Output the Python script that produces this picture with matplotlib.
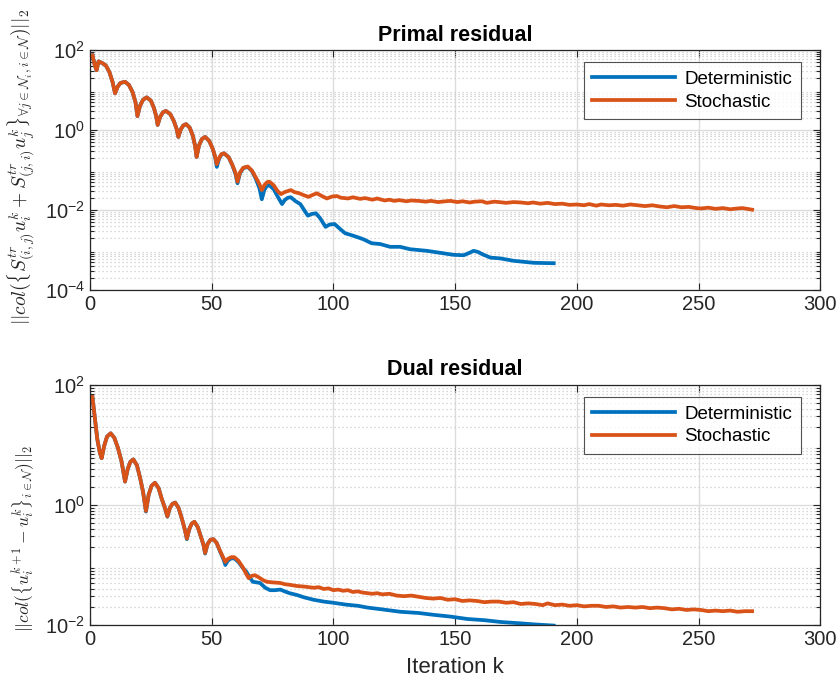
import matplotlib
matplotlib.use("Agg")
import matplotlib.pyplot as plt
import numpy as np
from matplotlib.ticker import LogLocator, FixedLocator, NullFormatter

plt.rcParams['font.family'] = ['Liberation Sans', 'DejaVu Sans']
plt.rcParams['mathtext.fontset'] = 'cm'

# ---------------- data (log10 of residuals) ----------------
primal_det_k = [1, 2, 2.7, 3.5, 5, 6.5, 8, 9.3, 10.3, 11.3, 12.5, 14.4, 16, 17.5, 18.7, 19.5,
                20.5, 21.8, 23.3, 25, 26.3, 27.2, 27.8, 28.8, 30, 31.2, 33, 34.5, 35.6, 36.3,
                37.3, 38.4, 39.5, 41, 42.3, 43.2, 43.8, 44.8, 46, 47.3, 49, 50.5, 51.5, 52.1,
                53, 54, 55.1, 57, 58.5, 59.8, 60.6, 61.6, 63, 64.8, 66.5, 68, 69.6, 70.6,
                71.6, 72.6, 73.7, 75.5, 77, 78.9, 80, 81.3, 82.5, 84.5, 86.4, 88, 89.5, 91,
                92.8, 94.5, 96.8, 98.5, 100.5, 102.5, 104.8, 107, 109.5, 112.3, 115.7, 119.2,
                123.3, 127.4, 131.5, 138.4, 143.9, 149.4, 153.5, 155.5, 157.6, 159.5, 161,
                164.5, 168.6, 174.1, 182.3, 190.5]
primal_det_log = [1.87, 1.62, 1.50, 1.72, 1.68, 1.62, 1.45, 1.20, 0.92, 1.08, 1.18, 1.21, 1.13, 0.95, 0.70, 0.35,
                  0.60, 0.76, 0.82, 0.74, 0.55, 0.35, 0.13, 0.33, 0.45, 0.48, 0.40, 0.22, 0.03, -0.17,
                  0.02, 0.12, 0.15, 0.06, -0.15, -0.40, -0.67, -0.38, -0.22, -0.17, -0.27, -0.48, -0.70, -0.92,
                  -0.72, -0.61, -0.58, -0.68, -0.88, -1.10, -1.33, -1.08, -0.95, -0.92, -1.02, -1.20, -1.45, -1.73,
                  -1.50, -1.40, -1.38, -1.48, -1.65, -1.85, -1.75, -1.69, -1.68, -1.78, -1.85, -2.00, -2.14, -2.10,
                  -2.08, -2.20, -2.42, -2.36, -2.35, -2.46, -2.58, -2.62, -2.67, -2.73, -2.83, -2.85,
                  -2.92, -2.92, -2.98, -3.02, -3.07, -3.12, -3.13, -3.08, -3.02, -3.05, -3.10,
                  -3.19, -3.21, -3.27, -3.32, -3.33]

primal_sto_k = [1, 2, 2.7, 3.5, 5, 6.5, 8, 9.3, 10.3, 11.3, 12.5, 14.4, 16, 17.5, 18.7, 19.5,
                20.5, 21.8, 23.3, 25, 26.3, 27.2, 27.8, 28.8, 30, 31.2, 33, 34.5, 35.6, 36.3,
                37.3, 38.4, 39.5, 41, 42.3, 43.2, 43.8, 44.8, 46, 47.3, 49, 50.5, 51.5, 52.1,
                53, 54, 55.1, 57, 58.5, 59.8, 60.6, 61.6, 63, 64.8, 66.5, 68, 69.6, 70.6,
                71.6, 72.8, 73.7, 75.5, 77, 78.5, 80, 81.5, 82.5, 84, 86, 87.5, 89.8, 91.5,
                93.2, 95, 97.3, 99.5, 101.5, 103, 106, 108, 111, 113, 116, 118, 121, 123, 125,
                127, 130, 132, 135, 138, 140, 143, 146, 148, 151, 153, 156, 158, 161, 163, 166,
                168, 171, 174, 177, 180, 182, 185, 188, 191, 194, 197, 200, 203, 205, 208, 210,
                213, 216, 219, 222, 225, 228, 231, 234, 237, 240, 243, 246, 249, 251, 254, 257,
                260, 263, 266, 268, 270, 272]
primal_sto_log = [1.87, 1.62, 1.50, 1.72, 1.68, 1.62, 1.45, 1.20, 0.92, 1.08, 1.18, 1.21, 1.13, 0.95, 0.70, 0.35,
                  0.60, 0.76, 0.82, 0.74, 0.55, 0.35, 0.13, 0.33, 0.45, 0.48, 0.40, 0.22, 0.03, -0.17,
                  0.02, 0.12, 0.15, 0.06, -0.15, -0.40, -0.67, -0.38, -0.22, -0.17, -0.27, -0.48, -0.68, -0.85,
                  -0.70, -0.60, -0.58, -0.68, -0.87, -1.07, -1.29, -1.06, -0.94, -0.91, -1.01, -1.17, -1.35, -1.50,
                  -1.38, -1.30, -1.29, -1.38, -1.52, -1.60, -1.55, -1.52, -1.50, -1.55, -1.58, -1.62, -1.67, -1.62,
                  -1.58, -1.64, -1.71, -1.66, -1.65, -1.69, -1.71, -1.68, -1.72, -1.70, -1.74, -1.71, -1.76, -1.74, -1.77,
                  -1.75, -1.78, -1.76, -1.77, -1.79, -1.77, -1.80, -1.78, -1.77, -1.80, -1.78, -1.81, -1.79, -1.78, -1.82, -1.79,
                  -1.80, -1.82, -1.80, -1.81, -1.83, -1.81, -1.84, -1.82, -1.85, -1.84, -1.87, -1.86, -1.88, -1.85, -1.89, -1.86,
                  -1.88, -1.87, -1.89, -1.86, -1.88, -1.90, -1.88, -1.91, -1.93, -1.90, -1.93, -1.92, -1.95, -1.96, -1.94, -1.97,
                  -1.95, -1.98, -1.96, -1.95, -1.97, -1.99]

dual_det_k = [1, 2, 3, 4, 4.8, 5.8, 7, 8.5, 10, 11.5, 13, 14.4, 15.5, 16.6, 17.8, 19.3, 20.6, 21.8, 23.0,
              24.1, 25.3, 26.7, 28.2, 29.5, 30.8, 31.8, 32.8, 33.9, 35, 36.4, 37.7, 38.9, 39.8, 40.8,
              41.8, 42.9, 44.3, 45.5, 46.6, 47.3, 48.3, 49.5, 50.7, 52, 53.5, 54.8, 55.6, 56.6, 58,
              59.3, 61, 62.8, 64.2, 65.5, 66.9, 68.5, 69.9, 72, 74, 76, 78.2, 80, 82, 85, 88, 91.9,
              96, 100, 105, 110, 114, 120, 127.5, 135, 141, 148, 155, 162, 168.7, 176, 182.4, 190.5]
dual_det_log = [1.80, 1.45, 1.10, 0.88, 0.78, 0.98, 1.14, 1.195, 1.12, 0.95, 0.72, 0.39, 0.60, 0.72, 0.76, 0.66, 0.45, 0.22, -0.11,
                0.17, 0.32, 0.37, 0.28, 0.10, -0.05, -0.195, -0.05, 0.02, 0.04, -0.05, -0.22, -0.40, -0.57, -0.40,
                -0.31, -0.28, -0.37, -0.52, -0.66, -0.81, -0.65, -0.58, -0.57, -0.63, -0.78, -0.90, -1.00, -0.93, -0.89,
                -0.89, -0.95, -1.05, -1.11, -1.20, -1.28, -1.29, -1.30, -1.38, -1.42, -1.42, -1.41, -1.44, -1.47, -1.50, -1.54, -1.58,
                -1.61, -1.63, -1.66, -1.68, -1.71, -1.74, -1.78, -1.80, -1.83, -1.86, -1.90, -1.92, -1.95, -1.97, -1.99, -2.01]

dual_sto_k = [1, 2, 3, 4, 4.8, 5.8, 7, 8.5, 10, 11.5, 13, 14.4, 15.5, 16.6, 17.8, 19.3, 20.6, 21.8, 23.0,
              24.1, 25.3, 26.7, 28.2, 29.5, 30.8, 31.8, 32.8, 33.9, 35, 36.4, 37.7, 38.9, 39.8, 40.8,
              41.8, 42.9, 44.3, 45.5, 46.6, 47.3, 48.3, 49.5, 50.7, 52, 53.5, 54.8, 55.6, 56.6, 58,
              59.3, 61, 62.8, 64.2, 65.2, 66.5, 67.8, 69.5, 71, 72.6, 75, 78.2, 80, 82, 85,
              88, 90, 92, 94, 96, 98, 100, 102, 104, 106, 108, 110, 112, 114, 116, 118, 120, 123,
              126, 129, 132, 135, 138, 141, 144, 147, 150, 153, 156, 159, 162, 165, 168, 171, 174,
              177, 180, 183, 186, 188, 191, 194, 197, 200, 203, 206, 209, 212, 215, 218, 221, 224,
              227, 230, 233, 236, 239, 242, 245, 248, 251, 254, 257, 260, 263, 266, 269, 272]
dual_sto_log = [1.80, 1.45, 1.10, 0.88, 0.78, 0.98, 1.14, 1.195, 1.12, 0.95, 0.72, 0.39, 0.60, 0.72, 0.76, 0.66, 0.45, 0.22, -0.10,
                0.17, 0.32, 0.37, 0.28, 0.10, -0.05, -0.19, -0.05, 0.02, 0.04, -0.05, -0.22, -0.40, -0.56, -0.40,
                -0.31, -0.28, -0.37, -0.52, -0.66, -0.80, -0.65, -0.58, -0.57, -0.63, -0.77, -0.88, -0.95, -0.90, -0.87,
                -0.87, -0.93, -1.04, -1.15, -1.22, -1.18, -1.17, -1.21, -1.25, -1.28, -1.29, -1.30, -1.32, -1.33, -1.35,
                -1.36, -1.37, -1.38, -1.37, -1.40, -1.39, -1.42, -1.41, -1.43, -1.42, -1.45, -1.44, -1.46, -1.47, -1.48, -1.47, -1.49, -1.48,
                -1.51, -1.52, -1.51, -1.53, -1.55, -1.56, -1.55, -1.58, -1.57, -1.60, -1.59, -1.60, -1.62, -1.61, -1.61, -1.63, -1.62,
                -1.65, -1.64, -1.65, -1.67, -1.64, -1.67, -1.66, -1.68, -1.67, -1.69, -1.68, -1.68, -1.70, -1.69, -1.71, -1.70, -1.71,
                -1.70, -1.72, -1.71, -1.72, -1.74, -1.73, -1.75, -1.74, -1.75, -1.77, -1.76, -1.77, -1.76, -1.78, -1.77, -1.77]

series_labels = ['Deterministic', 'Stochastic']
x_ticks = [0, 50, 100, 150, 200, 250, 300]

BLUE = '#0072BD'
ORANGE = '#D95319'
DARK = '#262626'

fig = plt.figure(figsize=(8.37, 6.88), dpi=100)
ax1 = fig.add_axes([0.1075, 0.5785, 0.8725, 0.3485])
ax2 = fig.add_axes([0.1075, 0.0916, 0.8725, 0.3488])


def style(ax, yticks, ylim):
    ax.set_yscale('log')
    ax.set_xlim(0, 300)
    ax.set_ylim(*ylim)
    ax.set_xticks(x_ticks)
    ax.yaxis.set_major_locator(FixedLocator(yticks))
    ax.yaxis.set_minor_locator(LogLocator(base=10, subs=np.arange(2, 10), numticks=50))
    ax.yaxis.set_minor_formatter(NullFormatter())
    ax.grid(True, which='major', axis='both', color='#dcdcdc', linewidth=1.0, linestyle='-')
    ax.grid(True, which='minor', axis='y', color='#cccccc', linewidth=0.9, linestyle=(0, (1, 2.2)))
    ax.set_axisbelow(True)
    ax.tick_params(which='both', direction='in', top=True, right=True, colors=DARK,
                   labelsize=14.5, width=0.8)
    ax.tick_params(which='major', length=5)
    ax.tick_params(which='minor', length=3)
    for s in ax.spines.values():
        s.set_color(DARK)
        s.set_linewidth(0.9)


def add_legend(ax):
    leg = ax.legend(loc='upper right', bbox_to_anchor=(0.973, 0.95), borderaxespad=0.0,
                    fontsize=13.5, frameon=True, fancybox=False, edgecolor=DARK,
                    handlelength=4.4, borderpad=0.45, labelspacing=0.3, handletextpad=0.5)
    leg.get_frame().set_linewidth(0.8)


ax1.plot(primal_det_k, np.power(10.0, primal_det_log), color=BLUE, lw=2.7, label=series_labels[0])
ax1.plot(primal_sto_k, np.power(10.0, primal_sto_log), color=ORANGE, lw=2.7, label=series_labels[1])
style(ax1, [1e-4, 1e-2, 1e0, 1e2], (1e-4, 1e2))
ax1.set_title('Primal residual', fontsize=15.5, fontweight='bold', pad=7)
ax1.set_ylabel(r'$||col(\{S^{tr}_{(i,j)}u^k_i + S^{tr}_{(j,i)}u^k_j\}_{\forall j\in\mathcal{N}_i, i\in\mathcal{N}})||_2$',
               fontsize=14, color=DARK)
ax1.yaxis.set_label_coords(-0.072, 0.515)
add_legend(ax1)

ax2.plot(dual_det_k, np.power(10.0, dual_det_log), color=BLUE, lw=2.7, label=series_labels[0])
ax2.plot(dual_sto_k, np.power(10.0, dual_sto_log), color=ORANGE, lw=2.7, label=series_labels[1])
style(ax2, [1e-2, 1e0, 1e2], (1e-2, 1e2))
ax2.set_title('Dual residual', fontsize=15.5, fontweight='bold', pad=7)
ax2.set_ylabel(r'$||col(\{u^{k+1}_i - u^k_i\}_{i\in\mathcal{N}})||_2$', fontsize=12.5, color=DARK)
ax2.yaxis.set_label_coords(-0.072, 0.36)
ax2.set_xlabel('Iteration k', fontsize=16, color=DARK, labelpad=6)
add_legend(ax2)

fig.savefig('out.png', dpi=100)
